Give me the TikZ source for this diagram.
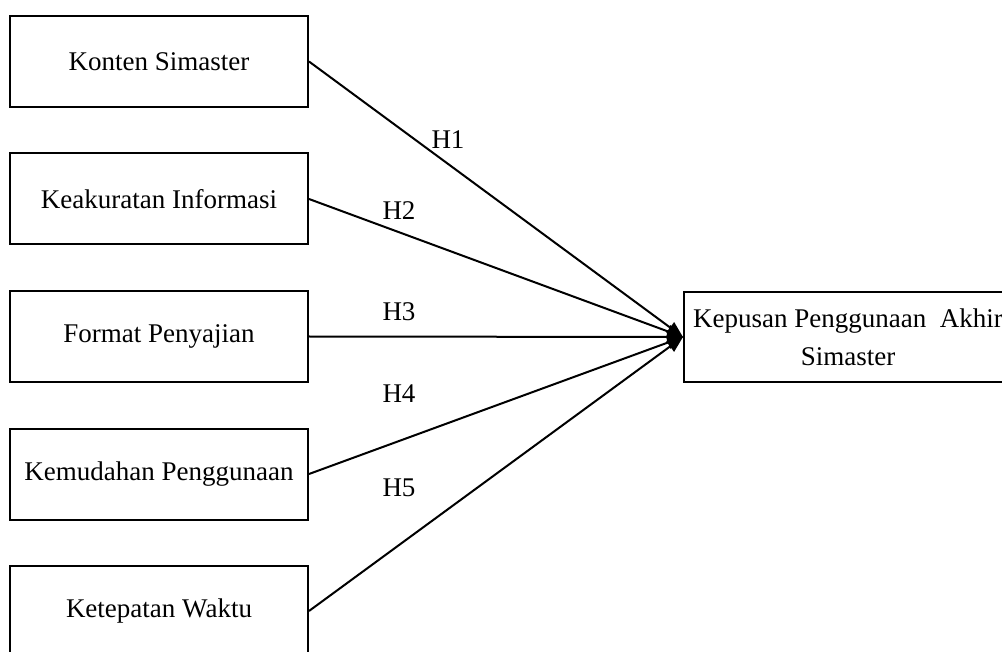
\documentclass[tikz,border=0pt]{standalone}
\usepackage{fontspec}
\setmainfont{Liberation Serif}
\usetikzlibrary{arrows.meta}

\begin{document}
\begin{tikzpicture}[
        x=1pt, y=-1pt,
        factor/.style={rectangle, draw, line width=2pt, minimum width=298pt, minimum height=91pt, inner sep=0pt, font=\fontsize{27}{38}\selectfont},
        outcome/.style={rectangle, draw, line width=2pt, minimum width=328pt, minimum height=90pt, inner sep=0pt, align=center, font=\fontsize{27}{38}\selectfont},
        hyp_label/.style={font=\fontsize{27}{30}\selectfont},
        link/.style={line width=2pt, -{Triangle[length=16pt,width=13pt]}}
    ]
        \useasboundingbox (0,0) rectangle (1002,652);
        \clip (0,0) rectangle (1002,652);

        % Independent variables
        \node[factor] (konten) at (159, 61.5) {Konten Simaster};
        \node[factor] (akurat) at (159, 199) {Keakuratan Informasi};
        \node[factor] (format) at (159, 336.5) {Format Penyajian};
        \node[factor] (mudah) at (159, 474) {Kemudahan Penggunaan};
        \node[factor] (waktu) at (159, 611) {Ketepatan Waktu};

        % Dependent variable
        \node[outcome] (kepuasan) at (848, 337) {Kepusan Penggunaan\ \ Akhir\\Simaster};

        % Hypothesis paths
        \draw[link] (konten.east) -- (kepuasan.west);
        \draw[link] (akurat.east) -- (kepuasan.west);
        \draw[link] (format.east) -- (kepuasan.west);
        \draw[link] (mudah.east) -- (kepuasan.west);
        \draw[link] (waktu.east) -- (kepuasan.west);

        % Hypothesis labels
        \node[hyp_label] (h1) at (448, 140) {H1};
        \node[hyp_label] (h2) at (399, 211) {H2};
        \node[hyp_label] (h3) at (399, 312) {H3};
        \node[hyp_label] (h4) at (399, 394) {H4};
        \node[hyp_label] (h5) at (399, 488) {H5};

    \end{tikzpicture}
\end{document}
